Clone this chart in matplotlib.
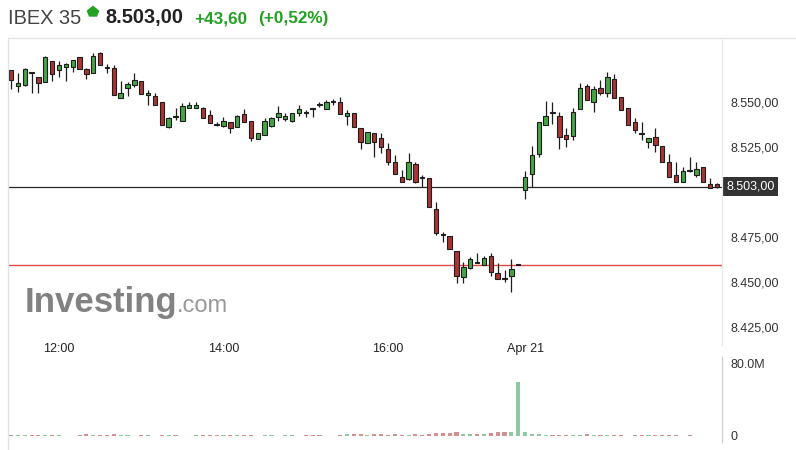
import numpy as np
import pandas as pd
import matplotlib
matplotlib.use("Agg")
import matplotlib.pyplot as plt
from matplotlib.patches import Polygon
from matplotlib.transforms import blended_transform_factory

plt.rcParams['font.family'] = ['Liberation Sans', 'DejaVu Sans']

# 5-minute candles, IBEX 35
day1 = pd.date_range('2021-04-20 11:25', '2021-04-20 17:35', freq='5min')
day2 = pd.date_range('2021-04-21 09:00', '2021-04-21 11:20', freq='5min')
times = day1.append(day2)

opens = [
    8567.8, 8558.9, 8559.4, 8566.1, 8563.9, 8561.1, 8572.8, 8567.8, 8569.4, 8569.4,
    8575.0, 8568.3, 8566.1, 8577.2, 8568.9, 8568.9, 8552.2, 8557.8, 8559.4, 8561.7,
    8553.9, 8553.3, 8550.0, 8536.1, 8541.7, 8539.4, 8546.7, 8546.7, 8546.7, 8542.8,
    8537.2, 8536.7, 8538.9, 8536.1, 8543.3, 8539.4, 8529.4, 8531.7, 8536.7, 8541.7,
    8540.6, 8539.4, 8543.9, 8543.9, 8546.1, 8548.3, 8546.1, 8550.0, 8550.0, 8542.2,
    8543.9, 8535.6, 8527.2, 8532.8, 8530.0, 8523.9, 8516.7, 8508.3, 8507.2, 8515.6,
    8507.8, 8507.8, 8490.6, 8476.1, 8475.6, 8467.2, 8452.8, 8457.8, 8460.6, 8459.4,
    8464.4, 8455.0, 8451.7, 8453.3, 8459.4, 8501.1, 8510.0, 8521.1, 8537.2, 8543.9,
    8542.2, 8531.7, 8531.1, 8546.1, 8558.9, 8550.0, 8557.8, 8555.0, 8562.8, 8552.8,
    8546.7, 8538.9, 8532.2, 8527.8, 8530.6, 8525.6, 8516.7, 8509.4, 8505.6, 8511.7,
    8509.4, 8513.9, 8504.4, 8504.4]
highs = [
    8567.8, 8566.1, 8568.9, 8566.7, 8563.9, 8575.6, 8572.8, 8572.8, 8571.7, 8573.3,
    8575.0, 8568.9, 8577.2, 8577.8, 8571.1, 8570.6, 8561.7, 8561.1, 8566.1, 8561.7,
    8556.7, 8555.0, 8550.0, 8541.7, 8546.7, 8549.4, 8550.0, 8550.0, 8547.2, 8545.6,
    8538.9, 8541.7, 8538.9, 8542.8, 8546.1, 8539.4, 8532.8, 8541.1, 8541.7, 8547.8,
    8543.9, 8543.9, 8548.3, 8545.6, 8546.1, 8550.0, 8551.1, 8551.7, 8552.8, 8545.6,
    8543.9, 8535.6, 8533.3, 8532.8, 8532.8, 8527.2, 8520.6, 8512.2, 8521.7, 8516.7,
    8509.4, 8507.8, 8494.4, 8477.8, 8475.6, 8467.2, 8461.1, 8463.9, 8466.1, 8464.4,
    8466.1, 8460.6, 8456.7, 8462.8, 8459.4, 8511.7, 8525.6, 8538.9, 8550.6, 8550.0,
    8544.4, 8535.6, 8546.7, 8560.6, 8560.0, 8558.9, 8562.2, 8566.7, 8565.6, 8552.8,
    8546.7, 8541.1, 8538.9, 8530.0, 8535.6, 8525.6, 8521.1, 8516.7, 8513.9, 8519.4,
    8516.7, 8513.9, 8507.8, 8505.0]
lows = [
    8557.2, 8555.6, 8558.9, 8555.0, 8555.0, 8561.1, 8561.7, 8563.9, 8561.7, 8566.7,
    8568.3, 8562.8, 8566.1, 8570.6, 8566.1, 8553.9, 8552.2, 8553.3, 8558.3, 8554.4,
    8548.3, 8548.3, 8537.2, 8535.6, 8540.0, 8539.4, 8546.7, 8546.7, 8541.1, 8538.3,
    8536.7, 8536.1, 8532.8, 8536.1, 8538.9, 8528.3, 8529.4, 8531.7, 8536.1, 8539.4,
    8539.4, 8538.9, 8542.2, 8541.7, 8541.7, 8547.2, 8546.1, 8548.3, 8543.3, 8537.2,
    8536.1, 8523.9, 8527.2, 8519.4, 8521.7, 8515.0, 8510.0, 8505.6, 8506.7, 8505.0,
    8502.8, 8491.7, 8476.1, 8472.2, 8468.3, 8449.4, 8449.4, 8457.2, 8460.5, 8459.4,
    8453.3, 8451.7, 8450.0, 8444.4, 8459.4, 8496.1, 8502.8, 8519.4, 8537.2, 8537.8,
    8523.9, 8525.0, 8528.9, 8546.1, 8551.1, 8544.4, 8553.9, 8552.8, 8552.2, 8545.6,
    8537.2, 8532.8, 8528.9, 8524.4, 8522.2, 8516.7, 8508.3, 8505.6, 8505.6, 8511.1,
    8508.3, 8505.6, 8502.2, 8502.2]
closes = [
    8562.2, 8560.6, 8568.3, 8566.0, 8560.6, 8575.0, 8565.6, 8570.6, 8571.1, 8573.3,
    8568.3, 8565.6, 8575.6, 8570.6, 8568.8, 8553.9, 8555.0, 8560.0, 8562.2, 8554.4,
    8555.0, 8548.3, 8537.2, 8541.1, 8541.6, 8547.8, 8548.3, 8548.3, 8541.1, 8538.3,
    8537.1, 8539.4, 8535.6, 8542.2, 8538.9, 8530.0, 8532.8, 8539.4, 8541.1, 8543.9,
    8542.2, 8543.9, 8546.1, 8543.8, 8546.0, 8548.2, 8550.0, 8550.1, 8543.3, 8543.9,
    8536.1, 8527.8, 8533.3, 8527.8, 8525.0, 8516.7, 8510.0, 8505.6, 8516.7, 8505.6,
    8507.7, 8491.7, 8477.2, 8476.0, 8468.3, 8453.3, 8458.3, 8462.8, 8460.5, 8463.3,
    8455.6, 8451.7, 8451.6, 8457.2, 8459.4, 8508.3, 8520.6, 8538.9, 8542.2, 8543.8,
    8530.6, 8529.4, 8544.4, 8557.8, 8551.1, 8557.2, 8555.0, 8563.9, 8552.2, 8545.6,
    8537.2, 8534.4, 8532.1, 8530.0, 8526.1, 8516.7, 8508.3, 8505.6, 8511.7, 8511.6,
    8512.8, 8505.6, 8502.2, 8503.0]
# volume in millions
volumes = [
    1.5, 1.5, 1.5, 1.5, 1.5, 1.5, 1.5, 1.5, 0, 0,
    1.5, 2.5, 1.5, 1.5, 1.5, 2.5, 1.5, 1.5, 0, 1.5,
    1.5, 0, 1.5, 1.5, 1.5, 0, 0, 1.5, 1.5, 1.5,
    1.5, 1.5, 1.5, 1.5, 1.5, 1.5, 0, 1.5, 1.5, 0,
    1.5, 1.5, 0, 1.5, 1.5, 1.5, 0, 0, 1.5, 2.5,
    2.5, 2.5, 1.5, 2.5, 2.5, 1.5, 2.5, 1.5, 1.5, 2.5,
    1.5, 2.5, 3.0, 3.5, 3.5, 4.5, 2.5, 2.5, 2.5, 2.5,
    3.0, 4.0, 4.0, 4.0, 60.0, 4.5, 2.5, 2.5, 1.5, 1.5,
    1.5, 1.5, 1.5, 1.5, 2.0, 1.5, 1.5, 1.5, 1.5, 1.5,
    0, 1.5, 1.5, 1.5, 1.5, 1.5, 1.5, 1.5, 0, 1.5,
    0, 0, 0, 0]
prev_close = 8459.4

o = np.array(opens); h = np.array(highs); l = np.array(lows); c = np.array(closes)
v = np.array(volumes)
x = np.arange(len(c))
up = c >= o


def eur(val):
    s = f"{val:,.2f}"
    return s.replace(',', 'X').replace('.', ',').replace('X', '.')


W, H = 796, 450
fig = plt.figure(figsize=(W / 100, H / 100), dpi=100)
fig.patch.set_facecolor('white')

# price panel
ax = fig.add_axes([8 / W, (H - 340) / H, 714 / W, 302 / H])
ax.set_facecolor('none')
for s in ax.spines.values():
    s.set_visible(False)
ax.set_xlim(-0.44, 103.73)
ax.set_ylim(8417.78, 8585.56)

ax.vlines(x, l, h, color='#1e1e1e', lw=0.9, zorder=2)
bottom = np.minimum(o, c)
height = np.maximum(np.abs(c - o), 0.45)
ax.bar(x, height, 0.64, bottom, color=np.where(up, '#45a545', '#a83434'),
       edgecolor='#1e1e1e', linewidth=0.8, zorder=3)

last = c[-1]
ax.axhline(last, color='#262626', lw=0.9, zorder=1)
ax.axhline(prev_close, color='#e04848', lw=1.0, zorder=1)

ax.yaxis.tick_right()
ax.set_yticks([8425, 8450, 8475, 8525, 8550])
ax.set_yticklabels([eur(t) for t in [8425, 8450, 8475, 8525, 8550]])
ax.tick_params(axis='y', length=0, pad=5.8, labelsize=9, labelcolor='#333333')

tick_pos, tick_lab = [], []
for i, t in enumerate(times):
    if i > 0 and t.date() != times[i - 1].date():
        tick_pos.append(i); tick_lab.append(t.strftime('%b %d').replace(' 0', ' '))
    elif t.minute == 0 and t.hour in (12, 14, 16):
        tick_pos.append(i); tick_lab.append(t.strftime('%H:%M'))
ax.set_xticks(tick_pos)
ax.set_xticklabels(tick_lab)
ax.tick_params(axis='x', length=0, pad=2.5, labelsize=9, labelcolor='#222222')

tr = blended_transform_factory(ax.transAxes, ax.transData)
ax.text(1.0 + 4 / 714, last, eur(last), transform=tr, ha='left', va='center',
        color='white', fontsize=9,
        bbox=dict(boxstyle='square,pad=0.3', fc='#333333', ec='none'))

# volume panel
vax = fig.add_axes([8 / W, 0, 714 / W, 95 / H])
vax.set_facecolor('none')
for s in vax.spines.values():
    s.set_visible(False)
vax.set_xlim(-0.44, 103.73)
vax.set_ylim(-15.56, 90)
vax.bar(x, v, 0.6, color=np.where(up, '#8ec9a3', '#d68f8f'), zorder=2)
vax.yaxis.tick_right()
vax.set_yticks([0, 80])
vax.set_yticklabels(['0', '80.0M'])
vax.set_xticks([])
vax.tick_params(axis='y', length=0, pad=5.8, labelsize=9, labelcolor='#333333')

# header, frame and watermark in pixel coordinates
ov = fig.add_axes([0, 0, 1, 1])
ov.set_xlim(0, W); ov.set_ylim(H, 0); ov.axis('off')
ov.plot([7.5, W], [38, 38], color='#e2e2e2', lw=0.9)
ov.plot([7.5, 7.5], [38, H], color='#e2e2e2', lw=0.9)
ov.plot([722, 722], [38, 345], color='#e8e8e8', lw=0.9)
ov.plot([721.5, 721.5], [357, 442], color='#c9cfe0', lw=0.9)

chg = last - prev_close
pct = chg / prev_close * 100
green = '#22a022'
ov.text(8, 23.5, 'IBEX 35', fontsize=14.4, color='#444444', va='baseline')
ov.add_patch(Polygon([(93, 6.5), (98.5, 11), (96.5, 16), (89.5, 16), (87.5, 11)],
                     closed=True, color=green))
ov.text(105, 23.5, eur(last), fontsize=14.4, fontweight='bold', color='#222222',
        va='baseline')
ov.text(194, 23, '+' + eur(chg), fontsize=12.3, fontweight='bold', color=green,
        va='baseline')
ov.text(258, 23, '(+' + eur(pct) + '%)', fontsize=12.3, fontweight='bold',
        color=green, va='baseline')

ov.text(25, 312, 'Investing', fontsize=25, fontweight='bold', color='#747474',
        va='baseline', alpha=0.9)
ov.text(177, 312, '.com', fontsize=17, color='#999999', va='baseline')

fig.savefig('out.png', dpi=100)
